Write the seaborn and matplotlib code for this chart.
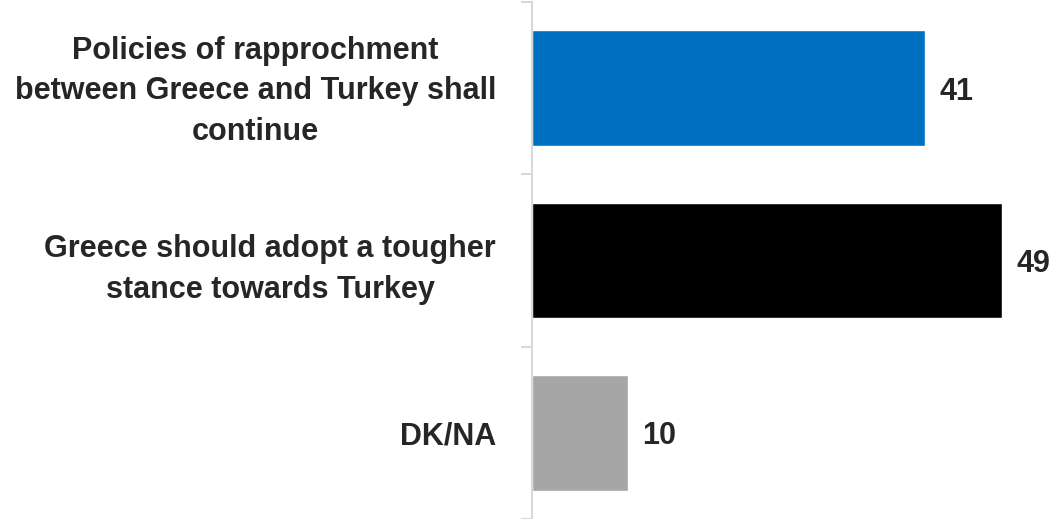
import matplotlib
matplotlib.use("Agg")
import matplotlib.pyplot as plt
import matplotlib.transforms as mtransforms
import seaborn as sns
import pandas as pd

categories = [
    "Policies of rapprochment\nbetween Greece and Turkey shall\ncontinue",
    "Greece should adopt a tougher\nstance towards Turkey",
    "DK/NA",
]
values = [41, 49, 10]
bar_colors = ["#0070C0", "#000000", "#A6A6A6"]

sns.set_style("white")
plt.rcParams["font.family"] = ["Liberation Sans", "DejaVu Sans"]

df = pd.DataFrame({"label": categories, "value": values})

fig = plt.figure(figsize=(10.51, 5.19), dpi=100)
ax = fig.add_axes([532 / 1051, 0, 519 / 1051, 517 / 519])

sns.barplot(data=df, x="value", y="label", hue="label", palette=bar_colors,
            orient="h", width=0.673, legend=False, ax=ax, saturation=1)

ax.set_xlim(0, 54.1)
ax.set_ylim(2.5, -0.5)
ax.set_xlabel("")
ax.set_ylabel("")
ax.set_xticks([])

for s in ["top", "right", "bottom"]:
    ax.spines[s].set_visible(False)
ax.spines["left"].set_color("#D9D9D9")
ax.spines["left"].set_linewidth(1.5)

ax.set_yticks([0, 1, 2])
ax.set_yticklabels(categories, fontsize=22, fontweight="bold", color="#262626",
                   multialignment="center", linespacing=1.46)
ax.tick_params(axis="y", which="major", left=False, length=0, pad=26)
ax.set_yticks([-0.5, 0.5, 1.5, 2.5], minor=True)
ax.tick_params(axis="y", which="minor", left=True, length=8, width=1.5,
               color="#D9D9D9")

# three-line label sits a little high in the original
lbl = ax.get_yticklabels()[0]
lbl.set_transform(lbl.get_transform() +
                  mtransforms.ScaledTranslation(0, 4 / 72, fig.dpi_scale_trans))

for i, v in enumerate(values):
    ax.text(v + 1.5, i + 0.02, str(v), va="center", ha="left", fontsize=22,
            fontweight="bold", color="#262626")

fig.savefig("out.png", dpi=100)
